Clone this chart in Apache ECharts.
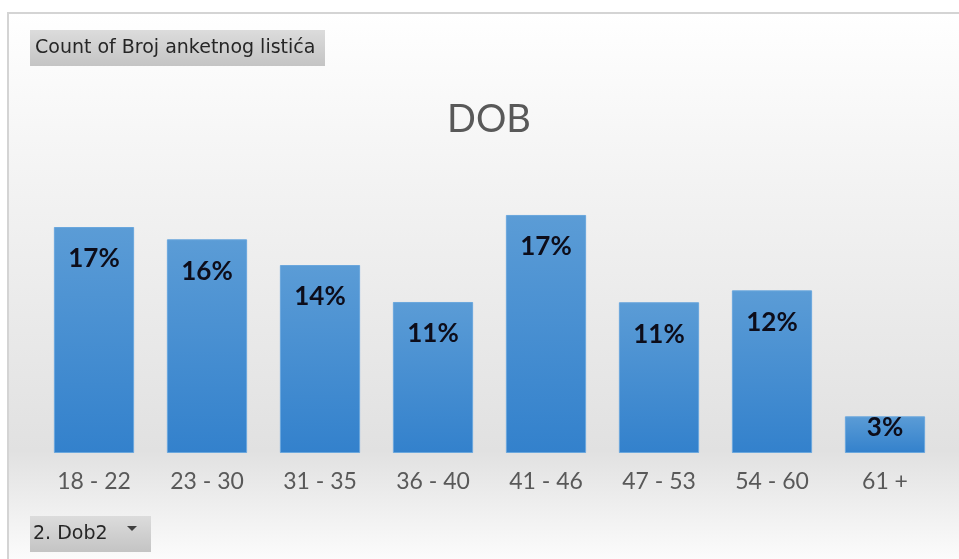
<!DOCTYPE html>
<html>
<head>
<meta charset="utf-8">
<script src="https://cdn.jsdelivr.net/npm/echarts@6/dist/echarts.min.js"></script>
<style>
html,body{margin:0;padding:0;background:#fff;}
#c{width:959px;height:559px;}
</style>
</head>
<body>
<div id="c"></div>
<script>
const titleText = 'DOB';
const fieldButton = 'Count of Broj anketnog listića';
const axisButton = '2. Dob2';
const categories = ['18 - 22','23 - 30','31 - 35','36 - 40','41 - 46','47 - 53','54 - 60','61 +'];
const percentValues = [16.52, 15.62, 13.74, 11.04, 17.40, 11.02, 11.89, 2.68];

const chart = echarts.init(document.getElementById('c'), null, {renderer:'canvas'});
const FONT = 'Lato, "Open Sans", sans-serif';
const BTNFONT = '"DejaVu Sans", Verdana, sans-serif';

chart.setOption({
  animation: false,
  backgroundColor: '#ffffff',
  title: {
    text: titleText,
    left: 442,
    top: 96,
    textStyle: {fontFamily: FONT, fontSize: 38, fontWeight: 'normal', color: '#595959'}
  },
  graphic: [
    {
      type: 'rect', z: -10, silent: true,
      shape: {x: 8, y: 13, width: 960, height: 560},
      style: {
        fill: new echarts.graphic.LinearGradient(0, 0, 0, 1, [
          {offset: 0, color: '#ffffff'},
          {offset: 0.3, color: '#f3f3f3'},
          {offset: 0.78, color: '#e1e1e1'},
          {offset: 1, color: '#ffffff'}
        ]),
        stroke: '#d4d4d4', lineWidth: 2
      }
    },
    {
      type: 'group', left: 30, top: 30,
      children: [
        {type: 'rect', shape: {x: 0, y: 0, width: 295, height: 36},
         style: {fill: new echarts.graphic.LinearGradient(0,0,0,1,[{offset:0,color:'#dcdcdc'},{offset:1,color:'#c4c4c4'}])}},
        {type: 'text', x: 5, y: 18, style: {text: fieldButton, fontFamily: BTNFONT, fontSize: 19, fill: '#262626', verticalAlign: 'middle'}}
      ]
    },
    {
      type: 'group', left: 30, top: 516,
      children: [
        {type: 'rect', shape: {x: 0, y: 0, width: 121, height: 36},
         style: {fill: new echarts.graphic.LinearGradient(0,0,0,1,[{offset:0,color:'#dcdcdc'},{offset:1,color:'#c4c4c4'}])}},
        {type: 'text', x: 3, y: 18, style: {text: axisButton, fontFamily: BTNFONT, fontSize: 19, fill: '#262626', verticalAlign: 'middle'}},
        {type: 'polygon', shape: {points: [[97,10],[107,10],[102,15]]}, style: {fill: '#404040'}}
      ]
    }
  ],
  grid: {left: 37.5, right: 17.5, top: 179.4, bottom: 106, containLabel: false},
  xAxis: {
    type: 'category',
    data: categories,
    axisLine: {show: false},
    axisTick: {show: false},
    axisLabel: {fontFamily: FONT, fontSize: 23, color: '#595959', margin: 17}
  },
  yAxis: {
    type: 'value', min: 0, max: 20, interval: 5,
    show: false,
    splitLine: {show: false}
  },
  series: [{
    type: 'bar',
    data: percentValues.map((v, i) => i === percentValues.length - 1
      ? {value: v, label: {distance: -2}}
      : v),
    barWidth: '71%',
    itemStyle: {
      color: new echarts.graphic.LinearGradient(0, 0, 0, 1, [
        {offset: 0, color: '#5b9cd6'},
        {offset: 1, color: '#3381cc'}
      ]),
      borderColor: '#6aa7dd', borderWidth: 1
    },
    label: {
      show: true,
      position: 'insideTop',
      distance: 19,
      fontFamily: FONT, fontSize: 26, fontWeight: 'bold', color: '#0d0d1a',
      formatter: p => Math.round(p.value) + '%'
    }
  }]
});
</script>
</body>
</html>
